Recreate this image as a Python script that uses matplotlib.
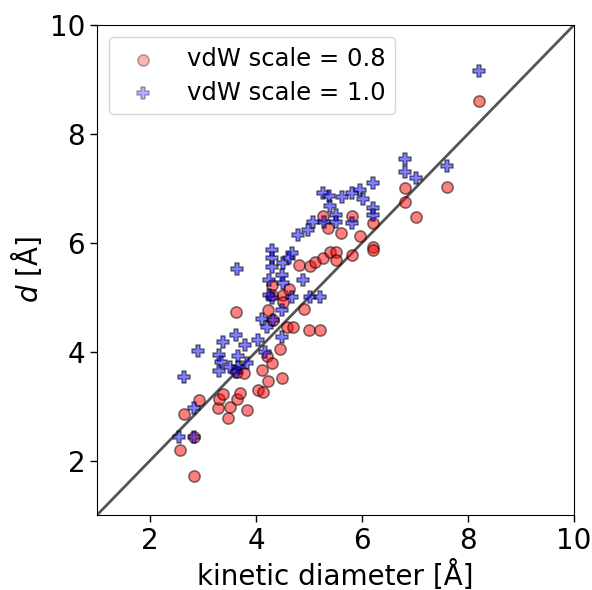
import matplotlib
matplotlib.use("Agg")
import matplotlib.pyplot as plt

# kinetic diameter (x) vs computed diameter d (y), vdW scale 0.8
kd_08 = [2.57, 2.64, 2.83, 2.83, 2.92, 3.28, 3.30, 3.38, 3.47, 3.51, 3.64, 3.70,
         3.83, 3.64, 3.77, 3.62, 4.04, 4.13, 4.11, 4.21, 4.30, 4.23, 4.49, 4.45,
         4.58, 4.70, 4.91, 5.00, 5.21, 4.30, 4.30, 4.51, 4.62, 4.51, 4.23, 4.32,
         4.81, 5.02, 5.11, 5.26, 5.40, 5.51, 5.51, 5.81, 5.26, 5.36, 5.60, 5.81,
         5.96, 6.21, 6.21, 6.21, 6.81, 6.81, 7.02, 7.60, 8.21]
d_08 = [2.19, 2.86, 2.43, 1.72, 3.11, 2.97, 3.13, 3.22, 2.78, 2.98, 3.13, 3.24,
        2.93, 3.63, 3.61, 4.73, 3.30, 3.26, 3.66, 3.92, 3.79, 3.46, 3.52, 4.05,
        4.45, 4.45, 4.78, 4.40, 4.40, 5.22, 5.04, 5.04, 5.15, 4.91, 4.77, 4.58,
        5.59, 5.57, 5.65, 5.72, 5.83, 5.83, 5.68, 5.78, 6.49, 6.27, 6.18, 6.49,
        6.12, 6.36, 5.92, 5.87, 7.00, 6.75, 6.47, 7.02, 8.60]

# vdW scale 1.0
kd_10 = [2.55, 2.83, 2.83, 2.64, 2.91, 3.30, 3.34, 3.30, 3.51, 3.66, 3.79, 3.66,
         3.83, 3.62, 3.38, 3.62, 3.64, 4.04, 4.11, 4.21, 4.32, 4.49, 4.17, 4.30,
         4.30, 4.30, 4.51, 4.62, 4.68, 4.49, 4.51, 4.25, 4.30, 4.25, 4.68, 4.49,
         4.89, 5.02, 5.21, 4.79, 4.98, 5.08, 5.26, 5.38, 5.62, 5.81, 5.96, 6.02,
         6.21, 6.21, 6.21, 5.40, 5.51, 5.51, 5.81, 5.28, 6.81, 6.81, 7.02, 7.60,
         8.21]
d_10 = [2.43, 2.43, 2.97, 3.53, 4.01, 3.94, 3.81, 3.65, 3.72, 3.92, 4.12, 3.72,
        3.79, 3.63, 4.18, 4.31, 5.52, 4.21, 4.60, 4.45, 4.58, 4.27, 3.99, 5.87,
        5.72, 5.56, 5.63, 5.72, 5.81, 5.41, 5.26, 5.32, 4.99, 5.04, 5.00, 4.77,
        5.32, 5.00, 5.00, 6.14, 6.24, 6.38, 6.91, 6.86, 6.84, 6.91, 6.97, 6.80,
        7.10, 6.64, 6.51, 6.68, 6.51, 6.38, 6.36, 6.38, 7.54, 7.30, 7.19, 7.41,
        9.16]

labels = ["vdW scale = 0.8", "vdW scale = 1.0"]
lims = [1, 10]
ticks = [2, 4, 6, 8, 10]

fig = plt.figure(figsize=(5.92, 5.90), dpi=100)
ax = fig.add_axes([0.1639, 0.1271, 0.8057, 0.8305])

ax.scatter(kd_08, d_08, s=65, c="red", edgecolors="black", linewidths=1.2,
           alpha=0.5, marker="o", label=labels[0], zorder=3)
ax.scatter(kd_10, d_10, s=65, c="blue", edgecolors="black", linewidths=1.1,
           alpha=0.5, marker="P", label=labels[1], zorder=3)
ax.plot(lims, lims, color="#555555", lw=2, zorder=2)

ax.set_xlim(lims)
ax.set_ylim(lims)
ax.set_xticks(ticks)
ax.set_yticks(ticks)
ax.tick_params(labelsize=20, length=5, width=1)
ax.set_xlabel("kinetic diameter [Å]", fontsize=20)
ax.set_ylabel("$d$ [Å]", fontsize=20)

leg = ax.legend(loc="upper left", fontsize=17.5, borderpad=0.4,
                handletextpad=0.8, labelspacing=0.4)
for h in leg.legend_handles:
    h.set_alpha(0.3)

fig.savefig("out.png", dpi=100)
